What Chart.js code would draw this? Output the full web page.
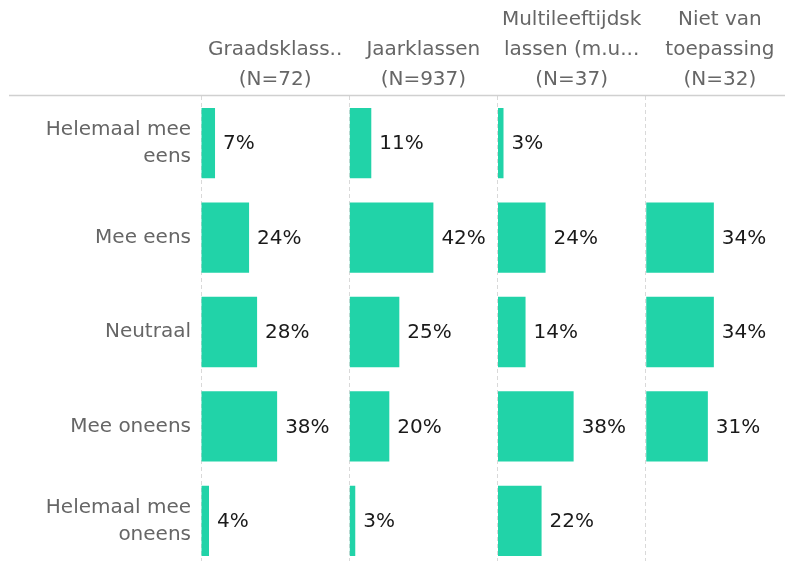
<!DOCTYPE html>
<html>
<head>
<meta charset="utf-8">
<script src="https://cdn.jsdelivr.net/npm/chart.js@4"></script>
<style>
  html, body { margin: 0; padding: 0; background: #fff; overflow: hidden; }
  #wrap { position: absolute; left: 0; top: 0; width: 794px; height: 568px; }
</style>
</head>
<body>
<div id="wrap"><canvas id="answersChart"></canvas></div>
<script>
// row labels (answers), one entry per bar row
const answers = [
    ["Helemaal mee", "eens"],
    "Mee eens",
    "Neutraal",
    "Mee oneens",
    ["Helemaal mee", "oneens"]
];

// column headers, one panel per group
const groupHeaders = [
    ["", "Graadsklass..", "(N=72)"],
    ["", "Jaarklassen", "(N=937)"],
    ["Multileeftijdsk", "lassen (m.u...", "(N=37)"],
    ["Niet van", "toepassing", "(N=32)"]
];

// percentages per group (null = no answer in that group)
const graadsklassen = [7, 24, 28, 38, 4];
const jaarklassen = [11, 42, 25, 20, 3];
const multileeftijd = [3, 24, 14, 38, 22];
const nietVanToepassing = [null, 34, 34, 31, null];

const groupValues = [graadsklassen, jaarklassen, multileeftijd, nietVanToepassing];

const barColor = "#21D3A8";
const font = "'DejaVu Sans', sans-serif";

const datasets = [];
const scales = {
    y: {
        type: 'category',
        labels: answers,
        position: 'left',
        grid: { display: false },
        border: { display: false },
        ticks: {
            color: '#666',
            padding: 2,
            font: { family: font, size: 20, lineHeight: 1.35 }
        },
        afterFit: function(scale) {
            scale.width = 201;
            // no extra room above/below for the multi-line labels
            scale.paddingTop = 0;
            scale.paddingBottom = 0;
        }
    }
};

for (let i = 0; i < groupValues.length; i++) {
    datasets.push({
        label: groupHeaders[i].join(' '),
        data: groupValues[i],
        xAxisID: 'x' + i,
        yAxisID: 'y',
        backgroundColor: barColor,
        grouped: false,
        categoryPercentage: 1,
        barPercentage: 0.745
    });
}

// top axes are laid out right to left, so add them last panel first
for (let i = groupValues.length - 1; i >= 0; i--) {
    scales['x' + i] = {
        type: 'linear',
        position: 'top',
        stack: 'groups',
        min: 0,
        max: 74,
        afterBuildTicks: function(scale) {
            // only keep the zero line, it is the dashed divider
            scale.ticks = [{ value: 0 }];
        },
        ticks: { display: false },
        grid: { color: '#d9d9d9', lineWidth: 1, drawTicks: false, borderDash: [4, 3] },
        border: { display: false, dash: [4, 3] },
        title: {
            display: true,
            text: groupHeaders[i],
            color: '#666',
            font: { family: font, size: 20, lineHeight: 1.5 },
            padding: { top: 5, bottom: 1 }
        }
    };
}

// the thin line under the headers
const headerLine = {
    id: 'headerLine',
    beforeDatasetsDraw(chart) {
        const ctx = chart.ctx;
        const y = chart.chartArea.top - 0.5;
        ctx.save();
        ctx.strokeStyle = '#d0d0d0';
        ctx.lineWidth = 1.5;
        ctx.beginPath();
        ctx.moveTo(9, y);
        ctx.lineTo(chart.width, y);
        ctx.stroke();
        ctx.restore();
    }
};

// percentage next to each bar
const valueLabels = {
    id: 'valueLabels',
    afterDatasetsDraw(chart) {
        const ctx = chart.ctx;
        ctx.save();
        ctx.font = "20px " + font;
        ctx.fillStyle = '#1a1a1a';
        ctx.textBaseline = 'middle';
        ctx.textAlign = 'left';
        chart.data.datasets.forEach(function(ds, i) {
            const meta = chart.getDatasetMeta(i);
            meta.data.forEach(function(bar, j) {
                const v = ds.data[j];
                if (v === null || v === undefined) return;
                ctx.fillText(v + '%', bar.x + 8, bar.y + 1);
            });
        });
        ctx.restore();
    }
};

new Chart(document.getElementById('answersChart'), {
    type: 'bar',
    data: { labels: answers, datasets: datasets },
    options: {
        indexAxis: 'y',
        responsive: true,
        maintainAspectRatio: false,
        animation: false,
        layout: { padding: 0 },
        plugins: {
            legend: { display: false },
            tooltip: { enabled: false }
        },
        scales: scales
    },
    plugins: [headerLine, valueLabels]
});
</script>
</body>
</html>
